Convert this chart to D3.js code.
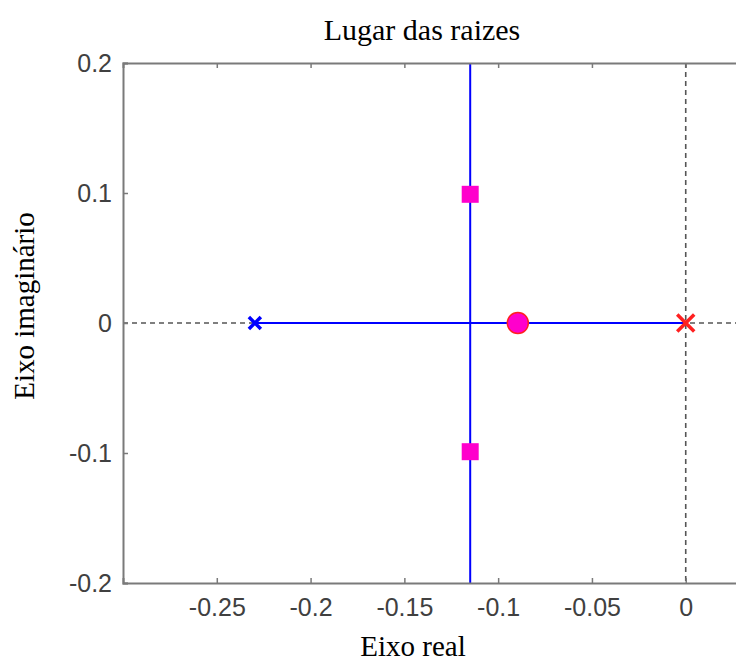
<!DOCTYPE html>
<html><head><meta charset="utf-8">
<script src="https://cdn.jsdelivr.net/npm/d3@7"></script>
<style>body{margin:0;background:#fff;}svg{display:block;}</style>
</head><body>
<svg id="c" width="736" height="664"></svg>
<script>
const xTicks = [-0.25, -0.2, -0.15, -0.1, -0.05, 0];
const yTicks = [-0.2, -0.1, 0, 0.1, 0.2];
const xDomain = [-0.3, 0.03];
const yDomain = [-0.2, 0.2];
// open-loop poles
const polesBlue = [[-0.2297, 0]];
const polesRed = [[0, 0]];
// locus branches
const realBranch = [[-0.2297, 0], [0, 0]];
const vertBranch = [[-0.1149, -0.25], [-0.1149, 0.25]];
// closed-loop roots (squares) and circle
const rootsSquare = [[-0.1149, 0.099], [-0.1149, -0.099]];
const rootsCircle = [[-0.0895, 0]];

const svg = d3.select("#c");
const L = 123, R = 742, T = 63, B = 583;
const x = d3.scaleLinear().domain(xDomain).range([L, R]);
const y = d3.scaleLinear().domain(yDomain).range([B, T]);

const defs = svg.append("defs");
defs.append("clipPath").attr("id","clip").append("rect")
  .attr("x",L).attr("y",T).attr("width",R-L).attr("height",B-T);

const g = svg.append("g").attr("clip-path","url(#clip)");
// dashed zero lines
g.append("line").attr("x1",L).attr("x2",R).attr("y1",y(0)).attr("y2",y(0))
  .attr("stroke","#555").attr("stroke-width",1.6).attr("stroke-dasharray","5,4");
g.append("line").attr("x1",x(0)).attr("x2",x(0)).attr("y1",T).attr("y2",B)
  .attr("stroke","#555").attr("stroke-width",1.6).attr("stroke-dasharray","5,4");

const line = d3.line().x(d=>x(d[0])).y(d=>y(d[1]));
g.append("path").attr("d",line(realBranch)).attr("stroke","#0000ff").attr("stroke-width",2).attr("fill","none");
g.append("path").attr("d",line(vertBranch)).attr("stroke","#0000ff").attr("stroke-width",2).attr("fill","none");

// axes
const axB = d3.axisBottom(x).tickValues(xTicks).tickSize(-5).tickPadding(15).tickFormat(d=>d===0?"0":String(d));
const axL = d3.axisLeft(y).tickValues(yTicks).tickSize(-5).tickPadding(11).tickFormat(d=>d===0?"0":String(d));
const axT = d3.axisTop(x).tickValues(xTicks).tickSize(-5).tickFormat("");
const axR = d3.axisRight(y).tickValues(yTicks).tickSize(-5).tickFormat("");
function style(sel){
  sel.select(".domain").attr("stroke","#7a7a7a").attr("stroke-width",2);
  sel.selectAll(".tick line").attr("stroke","#7a7a7a").attr("stroke-width",1.5);
  sel.selectAll(".tick text").attr("fill","#404040").attr("font-family","Liberation Sans, Arial, sans-serif").attr("font-size",25);
}
svg.append("g").attr("transform",`translate(0,${B})`).call(axB).call(style);
svg.append("g").attr("transform",`translate(${L},0)`).call(axL).call(style);
svg.append("g").attr("transform",`translate(0,${T})`).call(axT).call(style);
svg.append("g").attr("transform",`translate(${R},0)`).call(axR).call(style);

// markers
const m = svg.append("g");
m.selectAll(".sq").data(rootsSquare).join("rect")
  .attr("x",d=>x(d[0])-8.5).attr("y",d=>y(d[1])-8.5).attr("width",17).attr("height",17)
  .attr("fill","#ff00cc");
m.selectAll(".ci").data(rootsCircle).join("circle")
  .attr("cx",d=>x(d[0])).attr("cy",d=>y(d[1])).attr("r",10.5)
  .attr("fill","#ff00cc").attr("stroke","#ff2020").attr("stroke-width",1.5);
function cross(sel, data, s, color, w){
  data.forEach(d=>{
    const cx=x(d[0]), cy=y(d[1]);
    sel.append("path").attr("d",`M${cx-s},${cy-s}L${cx+s},${cy+s}M${cx-s},${cy+s}L${cx+s},${cy-s}`)
      .attr("stroke",color).attr("stroke-width",w).attr("fill","none");
  });
}
cross(m, polesBlue, 6, "#0000ff", 3.5);
cross(m, polesRed, 8.5, "#ff2020", 3.5);

// labels
const serif = "Liberation Serif, Times New Roman, serif";
svg.append("text").attr("x",422).attr("y",40).attr("text-anchor","middle")
  .attr("font-family",serif).attr("font-size",30).attr("fill","#000").text("Lugar das raizes");
svg.append("text").attr("x",413).attr("y",656).attr("text-anchor","middle")
  .attr("font-family",serif).attr("font-size",29).attr("fill","#000").text("Eixo real");
svg.append("text").attr("transform","translate(34,306) rotate(-90)").attr("text-anchor","middle")
  .attr("font-family",serif).attr("font-size",29).attr("fill","#000").text("Eixo imaginário");
</script>
</body></html>
